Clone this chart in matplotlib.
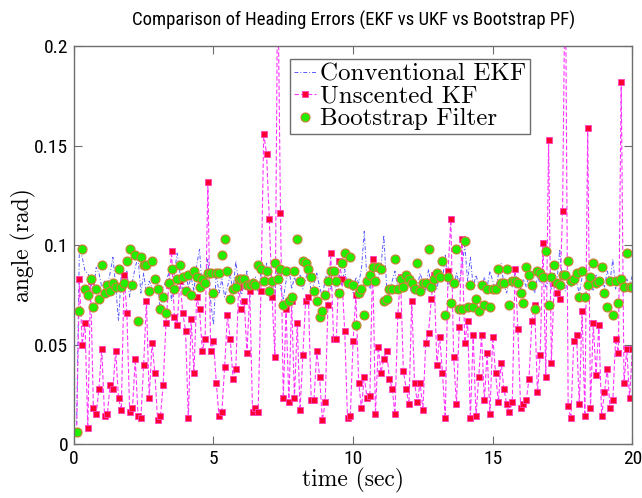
import matplotlib

matplotlib.use("Agg")

import matplotlib.pyplot as plt  # noqa: E402
import numpy as np  # noqa: E402
from matplotlib import font_manager  # noqa: E402

# Sample times (s): 0.1 s steps, 200 samples
time_s = np.round(np.arange(1, 201) * 0.1, 1)

ekf_err = [
    0.010, 0.100, 0.094, 0.087, 0.086, 0.082, 0.076, 0.089, 0.086, 0.079,
    0.082, 0.080, 0.086, 0.094, 0.079, 0.062, 0.086, 0.079, 0.087, 0.074,
    0.082, 0.089, 0.094, 0.076, 0.086, 0.076, 0.082, 0.079, 0.076, 0.081,
    0.067, 0.079, 0.082, 0.086, 0.072, 0.086, 0.096, 0.086, 0.076, 0.086,
    0.079, 0.084, 0.077, 0.090, 0.098, 0.078, 0.083, 0.093, 0.072, 0.060,
    0.086, 0.076, 0.083, 0.074, 0.079, 0.085, 0.077, 0.092, 0.081, 0.075,
    0.080, 0.087, 0.074, 0.079, 0.084, 0.077, 0.086, 0.080, 0.091, 0.078,
    0.083, 0.076, 0.088, 0.079, 0.073, 0.082, 0.089, 0.078, 0.084, 0.080,
    0.085, 0.078, 0.083, 0.088, 0.076, 0.081, 0.086, 0.079, 0.074, 0.083,
    0.087, 0.078, 0.082, 0.077, 0.085, 0.080, 0.088, 0.079, 0.083, 0.076,
    0.084, 0.081, 0.088, 0.107, 0.082, 0.078, 0.085, 0.080, 0.083, 0.090,
    0.105, 0.079, 0.075, 0.082, 0.087, 0.078, 0.084, 0.079, 0.083, 0.081,
    0.076, 0.083, 0.079, 0.086, 0.081, 0.077, 0.088, 0.080, 0.084, 0.078,
    0.085, 0.082, 0.095, 0.079, 0.083, 0.078, 0.086, 0.081, 0.090, 0.100,
    0.082, 0.094, 0.079, 0.085, 0.080, 0.077, 0.084, 0.079, 0.087, 0.082,
    0.078, 0.085, 0.091, 0.080, 0.076, 0.083, 0.079, 0.086, 0.081, 0.078,
    0.083, 0.079, 0.085, 0.080, 0.076, 0.084, 0.081, 0.088, 0.079, 0.083,
    0.078, 0.086, 0.082, 0.098, 0.080, 0.077, 0.085, 0.079, 0.083, 0.081,
    0.076, 0.084, 0.088, 0.079, 0.082, 0.077, 0.085, 0.080, 0.083, 0.079,
    0.087, 0.082, 0.093, 0.078, 0.084, 0.080, 0.076, 0.083, 0.079, 0.085,
]

ukf_err = [
    0.006, 0.083, 0.050, 0.061, 0.008, 0.082, 0.018, 0.015, 0.028, 0.048,
    0.014, 0.015, 0.030, 0.028, 0.047, 0.023, 0.017, 0.085, 0.066, 0.016,
    0.018, 0.043, 0.014, 0.013, 0.040, 0.072, 0.023, 0.051, 0.036, 0.012,
    0.014, 0.030, 0.061, 0.080, 0.097, 0.064, 0.060, 0.082, 0.066, 0.057,
    0.013, 0.063, 0.036, 0.074, 0.068, 0.047, 0.053, 0.132, 0.047, 0.052,
    0.031, 0.014, 0.016, 0.039, 0.065, 0.053, 0.033, 0.038, 0.079, 0.068,
    0.072, 0.046, 0.077, 0.016, 0.018, 0.016, 0.077, 0.156, 0.146, 0.113,
    0.074, 0.044, 0.240, 0.116, 0.023, 0.068, 0.021, 0.072, 0.023, 0.061,
    0.017, 0.045, 0.072, 0.074, 0.022, 0.022, 0.047, 0.034, 0.012, 0.021,
    0.070, 0.096, 0.053, 0.053, 0.092, 0.083, 0.057, 0.013, 0.014, 0.052,
    0.075, 0.031, 0.018, 0.034, 0.023, 0.024, 0.093, 0.015, 0.049, 0.036,
    0.043, 0.047, 0.033, 0.028, 0.015, 0.065, 0.084, 0.037, 0.028, 0.020,
    0.072, 0.031, 0.021, 0.031, 0.017, 0.051, 0.056, 0.073, 0.085, 0.040,
    0.054, 0.036, 0.013, 0.087, 0.113, 0.044, 0.020, 0.059, 0.103, 0.051,
    0.062, 0.013, 0.055, 0.014, 0.034, 0.055, 0.022, 0.046, 0.015, 0.054,
    0.036, 0.021, 0.041, 0.028, 0.020, 0.016, 0.021, 0.088, 0.058, 0.018,
    0.020, 0.022, 0.033, 0.062, 0.070, 0.026, 0.045, 0.101, 0.034, 0.153,
    0.041, 0.081, 0.076, 0.073, 0.117, 0.250, 0.019, 0.013, 0.052, 0.055,
    0.020, 0.067, 0.014, 0.159, 0.018, 0.061, 0.035, 0.060, 0.014, 0.026,
    0.038, 0.018, 0.022, 0.053, 0.046, 0.182, 0.031, 0.048, 0.023, 0.048,
]

pf_err = [
    0.006, 0.067, 0.098, 0.078, 0.075, 0.083, 0.069, 0.078, 0.073, 0.090,
    0.076, 0.080, 0.077, 0.081, 0.079, 0.088, 0.079, 0.081, 0.092, 0.098,
    0.080, 0.095, 0.062, 0.094, 0.090, 0.090, 0.077, 0.092, 0.083, 0.078,
    0.068, 0.074, 0.066, 0.081, 0.088, 0.078, 0.083, 0.090, 0.084, 0.077,
    0.085, 0.075, 0.087, 0.084, 0.079, 0.083, 0.081, 0.086, 0.086, 0.076,
    0.086, 0.086, 0.095, 0.103, 0.087, 0.073, 0.078, 0.079, 0.083, 0.083,
    0.083, 0.080, 0.080, 0.081, 0.080, 0.090, 0.088, 0.082, 0.087, 0.077,
    0.082, 0.091, 0.083, 0.088, 0.070, 0.087, 0.072, 0.074, 0.087, 0.103,
    0.082, 0.092, 0.091, 0.088, 0.084, 0.077, 0.072, 0.064, 0.067, 0.075,
    0.082, 0.087, 0.087, 0.082, 0.076, 0.091, 0.096, 0.081, 0.094, 0.080,
    0.060, 0.076, 0.078, 0.065, 0.082, 0.085, 0.089, 0.082, 0.089, 0.088,
    0.072, 0.073, 0.078, 0.078, 0.093, 0.078, 0.083, 0.079, 0.085, 0.083,
    0.081, 0.078, 0.091, 0.077, 0.081, 0.081, 0.098, 0.079, 0.083, 0.086,
    0.084, 0.092, 0.065, 0.084, 0.071, 0.081, 0.098, 0.068, 0.068, 0.102,
    0.069, 0.080, 0.069, 0.073, 0.067, 0.080, 0.070, 0.078, 0.069, 0.078,
    0.078, 0.088, 0.081, 0.081, 0.088, 0.070, 0.082, 0.082, 0.081, 0.076,
    0.071, 0.089, 0.085, 0.080, 0.068, 0.087, 0.086, 0.084, 0.097, 0.070,
    0.084, 0.090, 0.081, 0.080, 0.085, 0.085, 0.092, 0.082, 0.083, 0.086,
    0.074, 0.087, 0.074, 0.080, 0.084, 0.091, 0.081, 0.082, 0.089, 0.076,
    0.069, 0.082, 0.065, 0.082, 0.071, 0.083, 0.079, 0.096, 0.079, 0.079,
]

x_ticks = [0, 5, 10, 15, 20]
y_ticks = [0, 0.05, 0.1, 0.15, 0.2]
y_tick_labels = ["0", "0.05", "0.1", "0.15", "0.2"]

# A narrow face for title and tick labels, if one is installed.
_installed = {f.name for f in font_manager.fontManager.ttflist}
_narrow = [n for n in ("Roboto Condensed", "Liberation Sans Narrow",
                       "DejaVu Sans Condensed", "Open Sans Condensed")
           if n in _installed]
_TICK_FONT = (_narrow[:1] or ["DejaVu Sans"]) + ["DejaVu Sans"]
_TICK_SIZE = 14 if _narrow else 12
_TITLE_SIZE = 13.5 if _narrow else 11.5
_LABEL_FONT = "cmr10"
_AXIS_GRAY = "#6e6e6e"

fig = plt.figure(figsize=(6.42, 4.98), dpi=100)
ax = fig.add_axes([0.115, 0.108, 0.870, 0.799])

ax.plot(time_s, ekf_err, color="#5a5aff", lw=0.7, ls=(0, (4, 2, 1, 2)),
        label="Conventional EKF")
ax.plot(time_s, ukf_err, color="#ff33ff", lw=0.8, ls=(0, (4, 2)),
        marker="s", ms=4.5, mfc="#ff0033", mec="#ff40c0", mew=0.6,
        label="Unscented KF")
ax.plot(time_s, pf_err, ls="none", marker="o", ms=6.5, mfc="#22ee00",
        mec="#d07a3a", mew=0.8, label="Bootstrap Filter")

ax.set_xlim(0, 20)
ax.set_ylim(0, 0.2)
ax.set_xticks(x_ticks)
ax.set_xticklabels([str(v) for v in x_ticks])
ax.set_yticks(y_ticks)
ax.set_yticklabels(y_tick_labels)
ax.tick_params(direction="in", length=6, width=0.8, colors=_AXIS_GRAY,
               top=True, right=True, labelsize=_TICK_SIZE, labelcolor="black",
               pad=4)
for lbl in ax.get_xticklabels() + ax.get_yticklabels():
    lbl.set_family(_TICK_FONT)
for spine in ax.spines.values():
    spine.set_color(_AXIS_GRAY)
    spine.set_linewidth(1.0)

ax.set_xlabel("time (sec)", family=_LABEL_FONT, fontsize=17)
ax.set_ylabel("angle (rad)", family=_LABEL_FONT, fontsize=17)
ax.xaxis.set_label_coords(0.5, -0.06)
ax.yaxis.set_label_coords(-0.068, 0.5)
ax.set_title("Comparison of Heading Errors (EKF vs UKF vs Bootstrap PF)",
             family=_TICK_FONT, fontsize=_TITLE_SIZE, pad=15)

leg = ax.legend(loc="upper left", bbox_to_anchor=(0.387, 0.968),
                prop={"family": _LABEL_FONT, "size": 18}, fancybox=False,
                framealpha=1, edgecolor=_AXIS_GRAY, borderpad=0.15,
                labelspacing=0.0, handlelength=0.9, handletextpad=0.15,
                borderaxespad=0)
leg.get_frame().set_linewidth(1.0)

fig.savefig("out.png", dpi=100)
plt.close(fig)
